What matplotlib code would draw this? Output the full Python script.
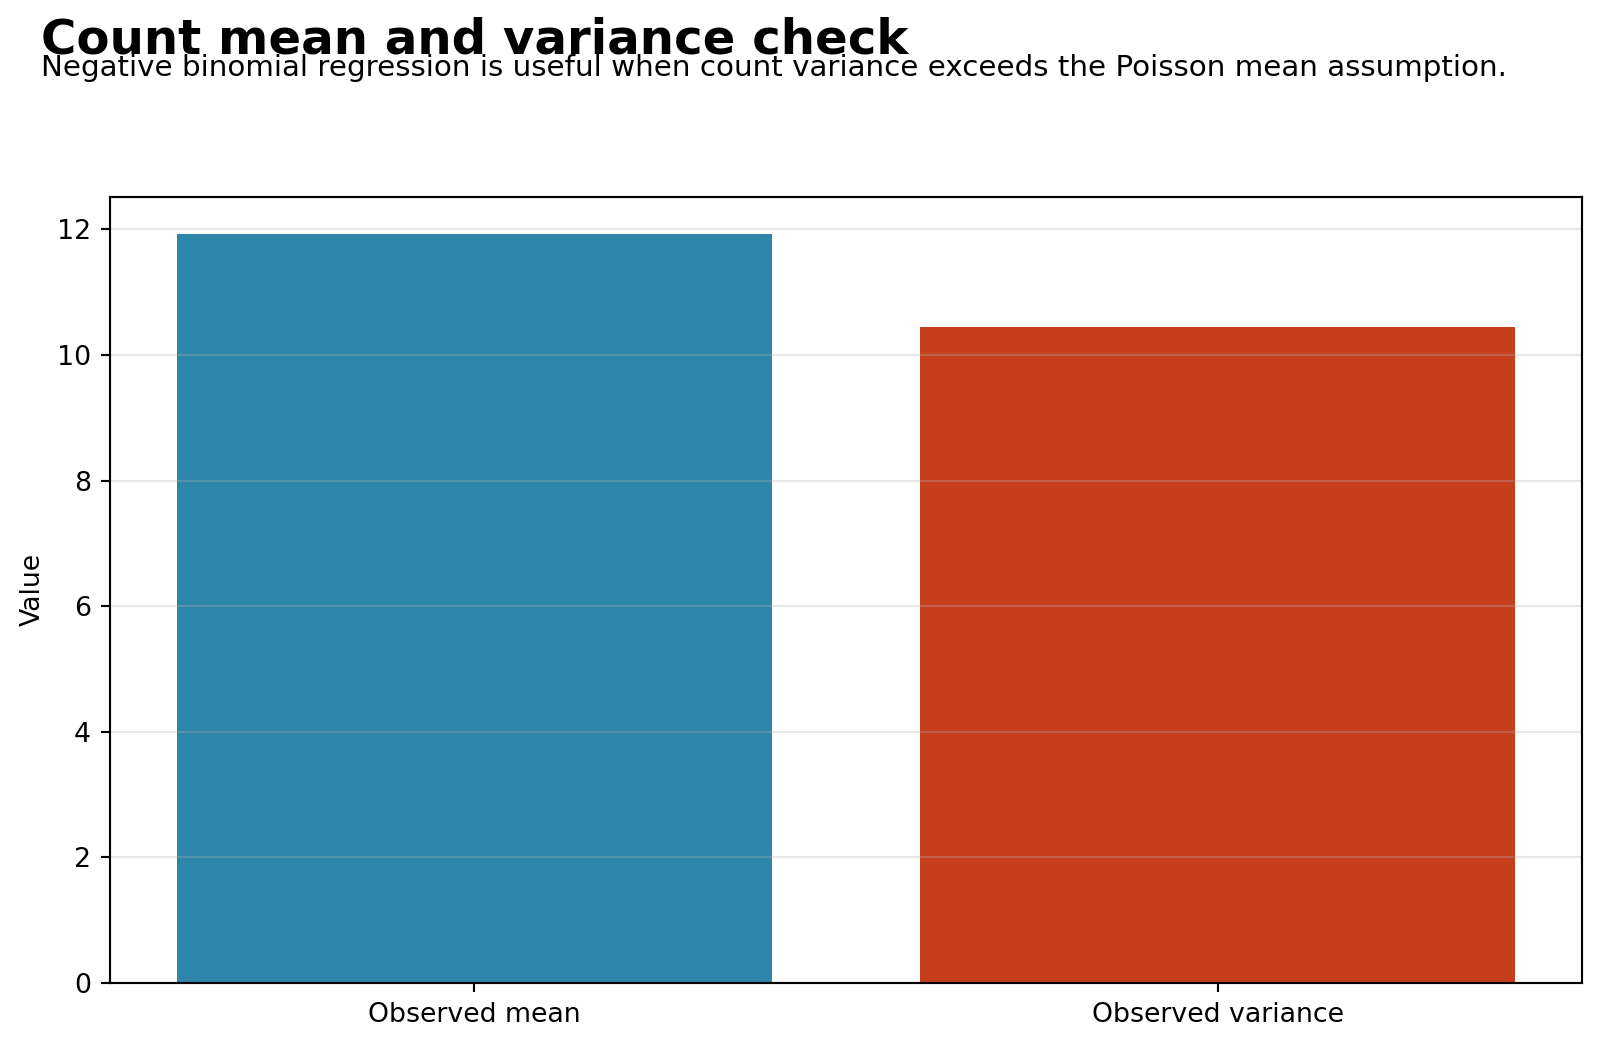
import matplotlib.pyplot as plt

categories = ['Observed mean', 'Observed variance']
values = [11.92, 10.45]
colors = ['#2E86AB', '#C73E1D']


def main():
    fig, ax = plt.subplots(figsize=(8, 5.24), dpi=200)
    fig.subplots_adjust(left=0.069, right=0.9885, top=0.812, bottom=0.0623)

    ax.bar(categories, values, width=0.8, color=colors)
    ax.set_ylabel('Value', fontsize=9.65)
    ax.tick_params(labelsize=9.65, width=0.77, length=3.4)
    for s in ax.spines.values():
        s.set_linewidth(0.77)
    ax.grid(axis='y', alpha=0.3, linewidth=0.77)

    fig.text(0.0255, 0.949, 'Count mean and variance check',
             fontsize=17.4, fontweight='bold', va='baseline')
    fig.text(0.0255, 0.9275,
             'Negative binomial regression is useful when count variance '
             'exceeds the Poisson mean assumption.',
             fontsize=10.6, va='baseline')

    fig.savefig('out.png', dpi=200)


main()
